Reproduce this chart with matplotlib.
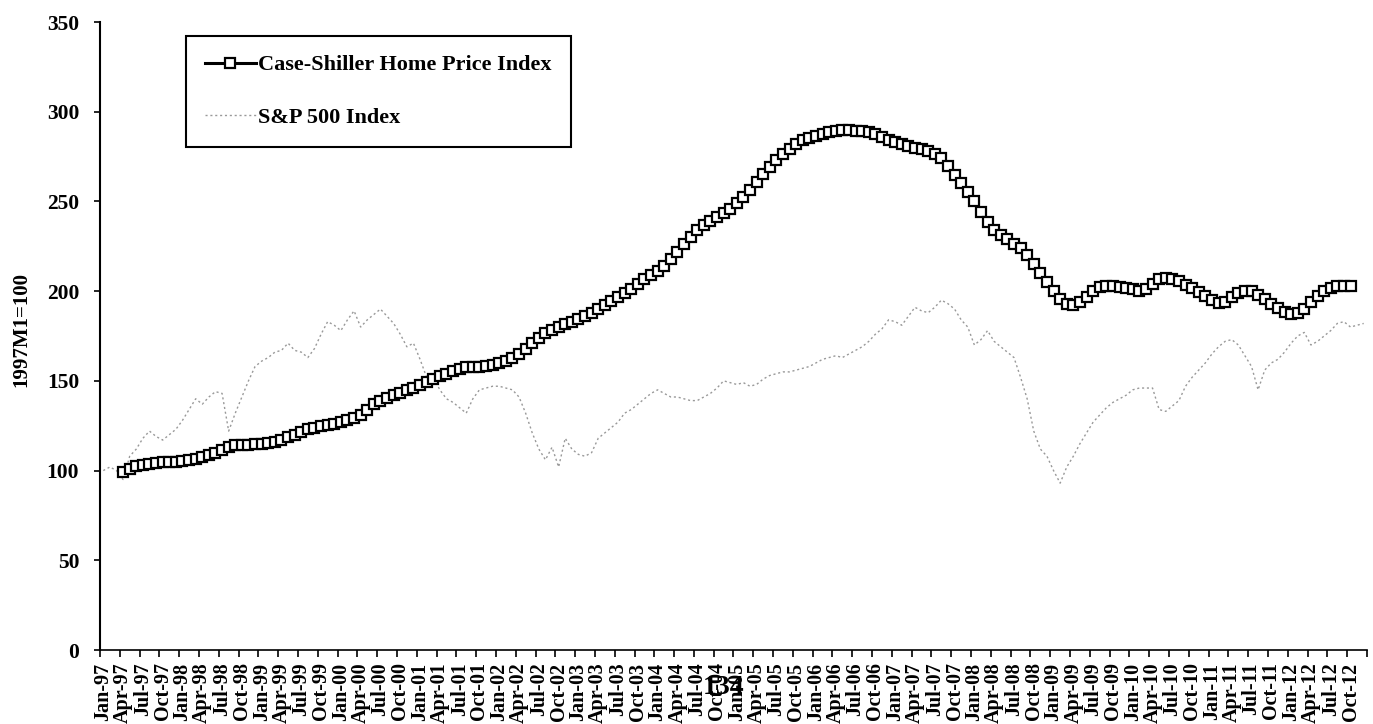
import matplotlib.pyplot as plt
import numpy as np

plt.rcParams['font.family'] = ['Liberation Serif', 'DejaVu Serif']
plt.rcParams['font.weight'] = 'bold'
plt.rcParams['axes.labelweight'] = 'bold'

# monthly categories Jan-97 .. Dec-12
month_names = ['Jan', 'Feb', 'Mar', 'Apr', 'May', 'Jun',
               'Jul', 'Aug', 'Sep', 'Oct', 'Nov', 'Dec']
categories = [f'{m}-{y % 100:02d}' for y in range(1997, 2013) for m in month_names]

# Case-Shiller Home Price Index (1997M1=100), Apr-97 .. Oct-12
cs_start = 3
case_shiller = [
    99, 101, 102.5, 103, 103.5, 104, 104.5, 105, 105, 105.5, 106, 106.5,          # Apr-97..Mar-98
    107.5, 108.5, 110, 111.5, 113, 114, 114.5, 114.5, 115, 115, 115.5, 116,       # Apr-98..Mar-99
    117, 118.5, 120, 121.5, 123, 124, 125, 125.5, 126, 127, 128, 129.5,           # Apr-99..Mar-00
    131, 134, 137, 139, 140.5, 142, 143.5, 145, 146, 147.5, 149.5, 151,           # Apr-00..Mar-01
    152.5, 154, 155.5, 156.5, 157.5, 158, 158, 158.3, 159, 159.8, 161, 163,       # Apr-01..Mar-02
    165, 168, 171, 174, 176.5, 178.5, 180, 181.5, 183, 184.5, 186, 188,           # Apr-02..Mar-03
    190, 192, 194.5, 197, 199, 201, 204, 206.5, 209, 211.5, 214, 218,             # Apr-03..Mar-04
    222, 226, 230, 234, 237, 239, 241.5, 243.5, 246, 249, 252.5, 256.5,           # Apr-04..Mar-05
    261, 265.5, 269, 273, 276.5, 279, 282, 284, 285.5, 286.5, 287.5, 288.5,       # Apr-05..Mar-06
    289.5, 290, 290, 289.5, 289, 288.5, 287.5, 286, 284.5, 283, 282, 281,         # Apr-06..Mar-07
    280, 279, 278, 276.5, 274, 270, 265, 260, 255, 250, 244, 238.5,               # Apr-07..Mar-08
    234, 231.5, 229, 226.5, 224, 220, 215, 210, 205, 200, 195.5, 193,             # Apr-08..Mar-09
    192.5, 194, 197, 200, 202.5, 203, 203, 202.5, 202, 201, 200, 201,             # Apr-09..Mar-10
    204, 206.5, 207.5, 207, 205.5, 203.5, 201.5, 199.5, 197.5, 195, 193.5, 194,   # Apr-10..Mar-11
    196.5, 199, 200, 200, 198, 195.5, 193, 190.5, 188.5, 187.5, 188, 190,         # Apr-11..Mar-12
    194, 197.5, 200, 202, 203, 203, 203,                                          # Apr-12..Oct-12
]

# S&P 500 Index (1997M1=100), Jan-97 .. Dec-12
sp500 = [
    100, 102, 100, 95, 108, 112, 118, 122, 119, 117, 120, 123,
    128, 134, 140, 137, 141, 144, 143, 122, 132, 141, 150, 158,
    161, 163, 166, 167, 171, 167, 166, 163, 168, 176, 183, 181,
    178, 184, 189, 180, 184, 187, 190, 186, 182, 176, 169, 171,
    162, 152, 152, 145, 140, 138, 135, 132, 140, 145, 146, 147,
    147, 146, 145, 141, 132, 121, 112, 106, 113, 102, 118, 112,
    109, 108, 110, 118, 121, 124, 127, 132, 134, 137, 140, 143,
    145, 143, 141, 141, 140, 139, 139, 141, 143, 146, 150, 149,
    148, 149, 147, 148, 151, 153, 154, 155, 155, 156, 157, 158,
    160, 162, 163, 164, 163, 165, 167, 169, 172, 176, 179, 184,
    183, 181, 186, 191, 189, 188, 191, 195, 193, 190, 184, 180,
    170, 173, 178, 172, 169, 166, 163, 152, 140, 122, 112, 108,
    100, 93, 102, 108, 115, 121, 127, 131, 135, 138, 140, 142,
    145, 146, 146, 146, 134, 133, 136, 139, 147, 152, 156, 160,
    165, 169, 172, 173, 170, 164, 158, 145, 156, 160, 162, 166,
    171, 175, 177, 170, 172, 175, 178, 182, 183, 180, 181, 182,
]

W, H = 1373, 724
fig = plt.figure(figsize=(W / 100, H / 100), dpi=100)
ax = fig.add_axes([100 / W, 1 - 650 / H, 1267 / W, 628 / H])

x_sp = np.arange(len(sp500))
x_cs = np.arange(cs_start, cs_start + len(case_shiller))

sp_line, = ax.plot(x_sp, sp500, color='#999999', lw=1.0, ls=(0, (1.5, 2)),
                   label='S&P 500 Index')
cs_line, = ax.plot(x_cs, case_shiller, color='black', lw=2.2, marker='s', ms=6.8,
                   mfc='white', mec='black', mew=1.6,
                   label='Case-Shiller Home Price Index')

ax.set_xlim(-0.5, len(categories) - 0.5)
ax.set_ylim(0, 350)
ax.set_yticks(range(0, 351, 50))

ax.set_xticks(range(0, len(categories), 3))
ax.set_xticklabels(categories[::3], rotation=90, fontsize=14.5)
ax.set_xticks(np.arange(-0.5, len(categories), 3), minor=True)
ax.tick_params(axis='x', which='major', length=0, pad=9)
ax.tick_params(axis='x', which='minor', length=5, width=1.2, direction='out')
ax.tick_params(axis='y', length=4, width=1.2, direction='out', pad=11, labelsize=15.5)

for s in ['top', 'right']:
    ax.spines[s].set_visible(False)
ax.spines['left'].set_linewidth(1.5)
ax.spines['bottom'].set_linewidth(1.2)

ax.set_ylabel('1997M1=100', fontsize=15, fontweight='bold')
ax.yaxis.set_label_coords(-0.054, 0.51)

leg = ax.legend(handles=[cs_line, sp_line], loc='upper left',
                bbox_to_anchor=(86 / 1267, 1 - 14 / 628), borderaxespad=0,
                fontsize=16, handlelength=2.3, handletextpad=0.1,
                labelspacing=1.45, borderpad=0.85, fancybox=False,
                framealpha=1, edgecolor='black')
leg.get_frame().set_linewidth(1.5)

# page number printed over the chart
fig.text(724 / W, 1 - 688 / H, '134', fontsize=20, fontweight='bold',
         ha='center', va='center')

fig.savefig('out.png', dpi=100)
